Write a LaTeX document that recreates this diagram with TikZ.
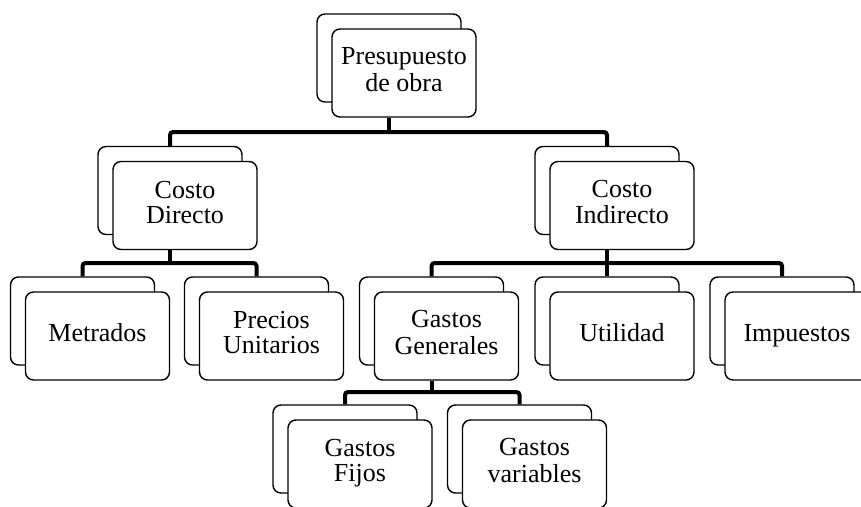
\documentclass[tikz,border=0pt]{standalone}
\usepackage{fontspec}
\setmainfont{Liberation Serif}
\begin{document}
\begin{tikzpicture}[x=1pt,y=-1pt,
  boxbase/.style={draw=black, line width=1.4pt, rounded corners=8pt, fill=white,
    minimum width=144pt, minimum height=88pt, inner sep=0pt, align=center,
    font=\fontsize{26}{25}\selectfont},
  backbox/.style={boxbase},
  frontbox/.style={boxbase},
  conn/.style={line width=4pt, rounded corners=3pt}]
\useasboundingbox (0,0) rectangle (861,506);
% back boxes
\node[backbox] (Pb) at (389,58) {};
\node[backbox] (CDb) at (170,190.5) {};
\node[backbox] (CIb) at (607,190.5) {};
\node[backbox] (Mb) at (82.5,321) {};
\node[backbox] (PUb) at (256.5,321) {};
\node[backbox] (GGb) at (431.5,321) {};
\node[backbox] (Ub) at (607,321) {};
\node[backbox] (Ib) at (782,321) {};
\node[backbox] (GFb) at (345,449) {};
\node[backbox] (GVb) at (519.5,449) {};
% front boxes
\node[frontbox] (P) at (404,73) {Presupuesto\strut\\de obra\strut};
\node[frontbox] (CD) at (185,205.5) {Costo\strut\\Directo\strut};
\node[frontbox] (CI) at (622,205.5) {Costo\strut\\Indirecto\strut};
\node[frontbox] (M) at (97.5,336) {Metrados\strut};
\node[frontbox] (PU) at (271.5,336) {Precios\strut\\Unitarios\strut};
\node[frontbox] (GG) at (446.5,336) {Gastos\strut\\Generales\strut};
\node[frontbox] (U) at (622,336) {Utilidad\strut};
\node[frontbox] (I) at (797,336) {Impuestos\strut};
\node[frontbox] (GF) at (360,464) {Gastos\strut\\Fijos\strut};
\node[frontbox] (GV) at (534.5,464) {Gastos\strut\\variables\strut};
% buses
\coordinate (bus1) at (389,132);
\coordinate (bus2) at (170,263);
\coordinate (bus3) at (607,263);
\coordinate (bus4) at (431.5,392);
% connectors
\draw[conn] (P.south -| bus1) -- (bus1);
\draw[conn] (CDb.north) |- (bus1) -| (CIb.north);
\draw[conn] (CD.south -| bus2) -- (bus2);
\draw[conn] (Mb.north) |- (bus2) -| (PUb.north);
\draw[conn] (CI.south -| bus3) -- (Ub.north);
\draw[conn] (GGb.north) |- (bus3) -| (Ib.north);
\draw[conn] (GG.south -| bus4) -- (bus4);
\draw[conn] (GFb.north) |- (bus4) -| (GVb.north);
\end{tikzpicture}
\end{document}
